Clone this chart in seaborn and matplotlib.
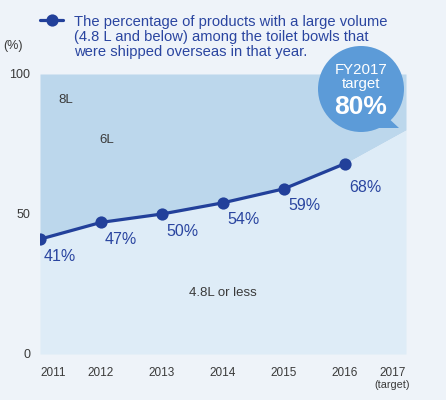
import matplotlib
matplotlib.use("Agg")
import matplotlib.pyplot as plt
import matplotlib.patches as mpatches
import seaborn as sns
import pandas as pd

# ---- data ----
years = [2011, 2012, 2013, 2014, 2015, 2016]
pct = [41, 47, 50, 54, 59, 68]
target_year = 2017
target_pct = 80
tick_years = [2011, 2012, 2013, 2014, 2015, 2016, 2017]
y_ticks = [0, 50, 100]
legend_text = ("The percentage of products with a large volume\n"
               "(4.8 L and below) among the toilet bowls that\n"
               "were shipped overseas in that year.")
zone_labels = ["8L", "6L", "4.8L or less"]

df = pd.DataFrame({"year": years, "pct": pct})

sns.set_theme(style="white")
plt.rcParams["font.family"] = ["Liberation Sans", "DejaVu Sans"]

BG = "#eef3f9"
UPPER = "#bcd7ec"
LOWER = "#deecf7"
LINE = "#22409a"
LABEL = "#2a45a0"
TXT = "#3a3a3a"
BUBBLE = "#5c9bd8"

fig = plt.figure(figsize=(4.46, 4.0), dpi=100, facecolor=BG)
ax = fig.add_axes([40/446, 46/400, 366/446, 280/400])
ax.set_facecolor(BG)

fx = years + [target_year]
fy = pct + [target_pct]
ax.fill_between(fx, fy, 100, color=UPPER, lw=0, zorder=1)
ax.fill_between(fx, 0, fy, color=LOWER, lw=0, zorder=1)

sns.lineplot(data=df, x="year", y="pct", ax=ax, color=LINE, lw=2.3,
             marker="o", markersize=8.8, markeredgewidth=0, zorder=3)

for x, y in zip(years, pct):
    dy = -24 if x == years[-1] else -17
    ax.annotate(f"{y}%", (x, y), xytext=(20, dy), textcoords="offset pixels",
                ha="center", va="center", fontsize=11.5, color=LABEL)

ax.set_xlim(tick_years[0], tick_years[-1])
ax.set_ylim(0, 100)
for s in ax.spines.values():
    s.set_visible(False)
ax.set_xlabel("")
ax.set_ylabel("")
ax.set_yticks(y_ticks)
ax.set_yticklabels([str(v) for v in y_ticks], fontsize=9, color=TXT)
ax.set_xticks(tick_years)
ax.set_xticklabels([str(v) for v in tick_years], fontsize=8.5, color=TXT)
ax.tick_params(axis="both", length=0)
ax.tick_params(axis="x", pad=9)
ax.tick_params(axis="y", pad=7)
xl = ax.get_xticklabels()
xl[0].set_ha("left")
xl[-1].set_ha("right")
ax.text(0.963, -0.092, "(target)", transform=ax.transAxes, ha="center",
        va="top", fontsize=7.8, color=TXT)

ax.text(-0.075, 1.10, "(%)", transform=ax.transAxes, ha="center",
        va="center", fontsize=9, color=TXT)

# zone labels
ax.text(0.071, 0.907, zone_labels[0], transform=ax.transAxes, ha="center",
        va="center", fontsize=9.5, color=TXT)
ax.text(0.183, 0.764, zone_labels[1], transform=ax.transAxes, ha="center",
        va="center", fontsize=9.5, color=TXT)
ax.text(0.5, 0.218, zone_labels[2], transform=ax.transAxes, ha="center",
        va="center", fontsize=9.5, color=TXT)

# legend
fig.add_artist(plt.Line2D([40/446, 51.5/446, 63/446], [380/400] * 3, color=LINE,
                          lw=2.3, marker="o", markersize=8.8, markevery=[1],
                          markeredgewidth=0, transform=fig.transFigure))
fig.text(74/446, 380/400 + 0.012, legend_text, ha="left", va="top",
         fontsize=10.6, color=LABEL, linespacing=1.08)

# bubble
cx, cy, r = 361/446, (400-89)/400, 43
circ = mpatches.Ellipse((cx, cy), 2*r/446, 2*r/400, transform=fig.transFigure,
                        color=BUBBLE, lw=0, zorder=5)
fig.add_artist(circ)
tail = mpatches.Polygon([(385/446, (400-115)/400), (399/446, (400-128)/400),
                         (372/446, (400-128)/400)], closed=True,
                        transform=fig.transFigure, color=BUBBLE, lw=0, zorder=5)
fig.add_artist(tail)
fig.text(cx, (400-70)/400, "FY2017", ha="center", va="center", fontsize=10.8,
         color="white", zorder=6)
fig.text(cx, (400-84)/400, "target", ha="center", va="center", fontsize=10.8,
         color="white", zorder=6)
fig.text(cx, (400-107)/400, "80%", ha="center", va="center", fontsize=19,
         color="white", fontweight="bold", zorder=6)

fig.savefig("out.png", dpi=100, facecolor=BG)
